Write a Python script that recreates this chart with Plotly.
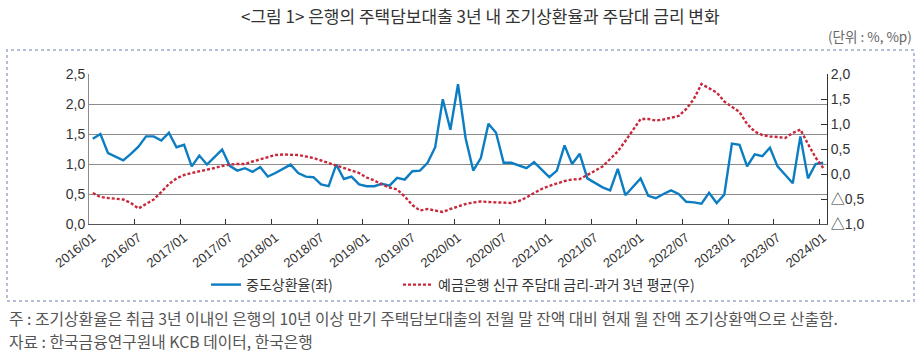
import plotly.graph_objects as go

# ---- data ----
months = [f"{2016 + i // 12}/{i % 12 + 1:02d}" for i in range(97)]  # 2016/01 .. 2024/01

prepay_rate = [  # 중도상환율(좌), %
    1.42, 1.50, 1.18, 1.12, 1.06, 1.17, 1.29, 1.46, 1.46, 1.39, 1.52, 1.28,
    1.32, 0.96, 1.14, 0.99, 1.12, 1.24, 0.97, 0.89, 0.93, 0.87, 0.95, 0.79,
    0.85, 0.92, 0.99, 0.85, 0.79, 0.78, 0.66, 0.63, 0.99, 0.75, 0.79, 0.66,
    0.63, 0.63, 0.67, 0.64, 0.77, 0.74, 0.88, 0.89, 1.02, 1.28, 2.08, 1.57,
    2.33, 1.43, 0.89, 1.10, 1.67, 1.52, 1.02, 1.02, 0.98, 0.93, 1.03, 0.91,
    0.78, 0.89, 1.31, 1.00, 1.17, 0.76, 0.68, 0.61, 0.56, 0.92, 0.48, 0.62,
    0.76, 0.47, 0.43, 0.50, 0.56, 0.50, 0.37, 0.36, 0.34, 0.52, 0.35, 0.49,
    1.34, 1.32, 0.96, 1.16, 1.13, 1.27, 0.96, 0.82, 0.68, 1.46, 0.76, 1.00,
    1.02,
]

rate_gap = [  # 예금은행 신규 주담대 금리-과거 3년 평균(우), %p
    -0.38, -0.46, -0.48, -0.49, -0.51, -0.58, -0.69, -0.60, -0.51, -0.36, -0.20, -0.09,
    -0.02, 0.02, 0.05, 0.09, 0.12, 0.16, 0.19, 0.20, 0.20, 0.25, 0.29, 0.34,
    0.38, 0.39, 0.39, 0.38, 0.35, 0.32, 0.27, 0.22, 0.18, 0.13, 0.07, 0.02,
    -0.07, -0.13, -0.21, -0.27, -0.31, -0.45, -0.62, -0.73, -0.70, -0.73, -0.76, -0.70,
    -0.65, -0.60, -0.57, -0.55, -0.56, -0.57, -0.58, -0.58, -0.54, -0.47, -0.38, -0.30,
    -0.24, -0.19, -0.14, -0.11, -0.10, -0.02, 0.07, 0.15, 0.30, 0.45, 0.66, 0.88,
    1.10, 1.10, 1.07, 1.09, 1.12, 1.16, 1.30, 1.50, 1.80, 1.72, 1.63, 1.45,
    1.35, 1.24, 1.00, 0.85, 0.78, 0.75, 0.74, 0.72, 0.82, 0.89, 0.60, 0.33,
    0.12,
]

tick_months = months[::6]
left_ticks = [0, 0.5, 1.0, 1.5, 2.0, 2.5]
left_tick_text = ["0,0", "0,5", "1,0", "1,5", "2,0", "2,5"]
right_ticks = [-1.0, -0.5, 0.0, 0.5, 1.0, 1.5, 2.0]
right_tick_text = ["△1,0", "△0,5", "0,0", "0,5", "1,0", "1,5", "2,0"]

title_text = "&lt;그림 1&gt; 은행의 주택담보대출 3년 내 조기상환율과 주담대 금리 변화"
unit_text = "(단위 : %, %p)"
note_text = "주 : 조기상환율은 취급 3년 이내인 은행의 10년 이상 만기 주택담보대출의 전월 말 잔액 대비 현재 월 잔액 조기상환액으로 산출함."
source_text = "자료 : 한국금융연구원내 KCB 데이터, 한국은행"

# ---- layout geometry ----
W, H = 924, 357
L, R, T, B = 89, 97, 74, 133
PW, PH = W - L - R, H - T - B


def px_x(px):
    return (px - L) / PW


def px_y(py):
    return (H - B - py) / PH


KR = "Noto Sans CJK KR, Noto Sans, sans-serif"
NUM = "Liberation Sans, Arial, Noto Sans CJK KR, sans-serif"

fig = go.Figure()

fig.add_trace(go.Scatter(
    x=months, y=rate_gap, mode="lines", yaxis="y2", legend="legend2",
    name="예금은행 신규 주담대 금리-과거 3년 평균(우)",
    line=dict(color="#C8283C", width=2.4, dash="3px,2px"),
))
fig.add_trace(go.Scatter(
    x=months, y=prepay_rate, mode="lines", yaxis="y", legend="legend",
    name="중도상환율(좌)",
    line=dict(color="#0C7DC2", width=2.4),
))

legend_common = dict(
    orientation="h", xanchor="left", yanchor="middle",
    font=dict(family=KR, size=14, color="#333"), bgcolor="rgba(0,0,0,0)",
    borderwidth=0,
)

fig.update_layout(
    width=W, height=H,
    margin=dict(l=L, r=R, t=T, b=B, autoexpand=False),
    paper_bgcolor="white", plot_bgcolor="white",
    showlegend=True,
    legend=dict(x=px_x(206), y=px_y(285), **legend_common),
    legend2=dict(x=px_x(398), y=px_y(285), **legend_common),
    xaxis=dict(
        type="category", range=[-0.5, 96.5],
        tickmode="array", tickvals=tick_months, ticktext=tick_months,
        tickson="boundaries", ticks="inside", ticklen=5, tickcolor="#333",
        showline=True, linecolor="#555", linewidth=1, showgrid=False,
        tickangle=-38, tickfont=dict(family=NUM, size=13, color="#333"),
    ),
    yaxis=dict(
        range=[0, 2.5], tickmode="array", tickvals=left_ticks, ticktext=left_tick_text,
        showgrid=True, gridcolor="#8c8c8c", gridwidth=1,
        showline=True, linecolor="#8c8c8c", linewidth=1, zeroline=False,
        ticks="", tickfont=dict(family=NUM, size=14, color="#333"),
    ),
    yaxis2=dict(
        overlaying="y", side="right", range=[-1, 2],
        tickmode="array", tickvals=right_ticks, ticktext=right_tick_text,
        showgrid=False, zeroline=False,
        showline=True, linecolor="#333", linewidth=1,
        ticks="inside", ticklen=6, tickcolor="#333",
        tickfont=dict(family=NUM, size=14, color="#333"),
    ),
    shapes=[
        dict(type="rect", xref="paper", yref="paper",
             x0=px_x(7), x1=px_x(914), y0=px_y(301), y1=px_y(50),
             line=dict(color="#B4BED4", width=2, dash="dot"), layer="below"),
    ],
    annotations=[
        dict(text=title_text, xref="paper", yref="paper", x=px_x(480), y=px_y(16),
             xanchor="center", yanchor="middle", showarrow=False,
             font=dict(family=KR, size=17, color="#333")),
        dict(text=unit_text, xref="paper", yref="paper", x=px_x(914), y=px_y(36),
             xanchor="right", yanchor="middle", showarrow=False,
             font=dict(family=KR, size=13.5, color="#666")),
        dict(text=note_text, xref="paper", yref="paper", x=px_x(7), y=px_y(318),
             xanchor="left", yanchor="middle", showarrow=False,
             font=dict(family=KR, size=15.8, color="#555")),
        dict(text=source_text, xref="paper", yref="paper", x=px_x(7), y=px_y(341),
             xanchor="left", yanchor="middle", showarrow=False,
             font=dict(family=KR, size=15.8, color="#555")),
    ],
)

fig.write_html(
    "out.html",
    config={"displayModeBar": False},
    post_script="document.body.style.margin='0';document.body.style.overflow='hidden';",
)
